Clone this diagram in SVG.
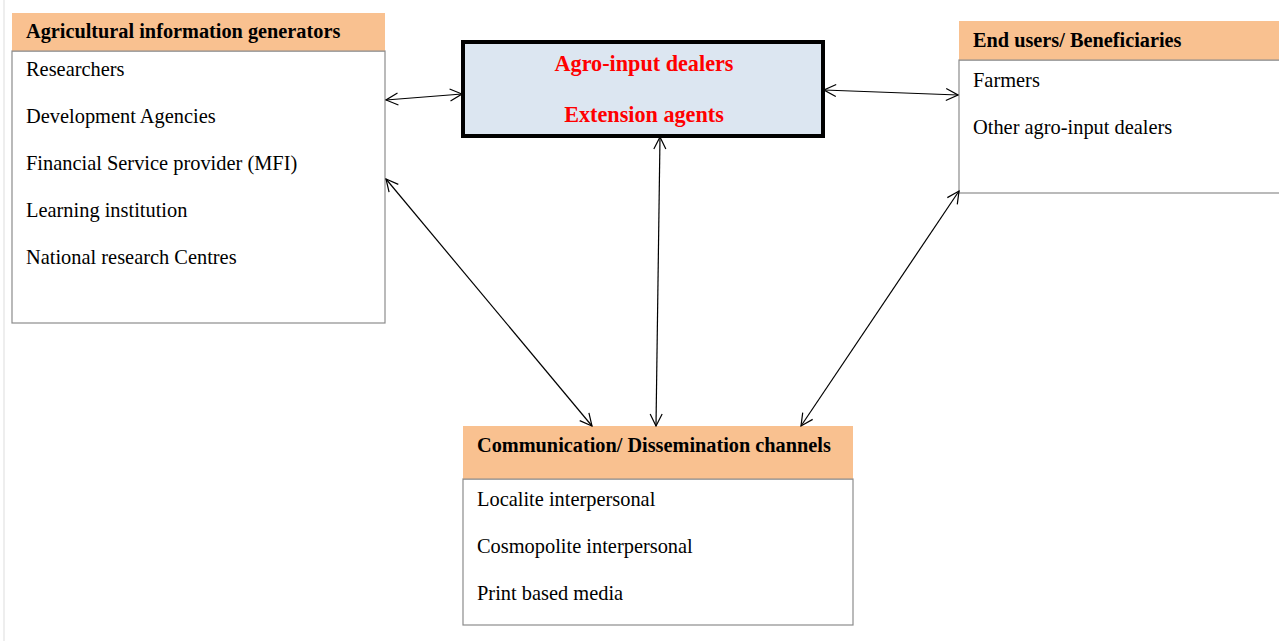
<svg xmlns="http://www.w3.org/2000/svg" width="1279" height="641" viewBox="0 0 1279 641">
<defs>
<style>
.hdr{fill:#f9c190;stroke:none}
.body{fill:#ffffff;stroke:#8c8c8c;stroke-width:1.2}
.ht{font-family:"Liberation Serif","Times New Roman",serif;font-weight:bold;font-size:20.3px;fill:#000}
.bt{font-family:"Liberation Serif","Times New Roman",serif;font-size:20.4px;fill:#000}
.rt{font-family:"Liberation Serif","Times New Roman",serif;font-weight:bold;font-size:22.2px;fill:#ff0000}
.conn{stroke:#000;stroke-width:1.2;fill:none;marker-start:url(#arr);marker-end:url(#arr)}
</style>
<marker id="arr" viewBox="0 0 14 14" refX="13" refY="7" markerWidth="14" markerHeight="14" markerUnits="userSpaceOnUse" orient="auto-start-reverse">
<path d="M1,1 L13,7 L1,13" fill="none" stroke="#000" stroke-width="1.2"/>
</marker>
</defs>
<rect width="1279" height="641" fill="#fff"/>
<line x1="4" y1="0" x2="4" y2="641" stroke="#eeeeee" stroke-width="2"/>
<g id="generators">
<rect class="body" x="12" y="51" width="373" height="272"/>
<rect class="hdr" x="12" y="13" width="373" height="38"/>
<line x1="12" y1="51" x2="385" y2="51" stroke="#8c8c8c" stroke-width="1.2"/>
<text class="ht" x="26" y="38">Agricultural information generators</text>
<text class="bt" x="26" y="76">Researchers</text>
<text class="bt" x="26" y="123">Development Agencies</text>
<text class="bt" x="26" y="170">Financial Service provider (MFI)</text>
<text class="bt" x="26" y="217">Learning institution</text>
<text class="bt" x="26" y="264">National research Centres</text>
</g>
<g id="dealers">
<rect x="463" y="42" width="360" height="94" fill="#dce6f1" stroke="#000" stroke-width="4"/>
<text class="rt" x="644" y="71" text-anchor="middle">Agro-input dealers</text>
<text class="rt" x="644" y="122" text-anchor="middle">Extension agents</text>
</g>
<g id="endusers">
<rect class="body" x="959" y="60" width="330" height="133"/>
<rect class="hdr" x="959" y="21" width="330" height="39"/>
<line x1="959" y1="60" x2="1279" y2="60" stroke="#8c8c8c" stroke-width="1.2"/>
<text class="ht" x="973" y="47">End users/ Beneficiaries</text>
<text class="bt" x="973" y="87">Farmers</text>
<text class="bt" x="973" y="134">Other agro-input dealers</text>
</g>
<g id="channels">
<rect class="body" x="463" y="479" width="390" height="146"/>
<rect class="hdr" x="463" y="426" width="390" height="53"/>
<line x1="463" y1="479" x2="853" y2="479" stroke="#8c8c8c" stroke-width="1.2"/>
<text class="ht" x="477" y="452">Communication/ Dissemination channels</text>
<text class="bt" x="477" y="506">Localite interpersonal</text>
<text class="bt" x="477" y="553">Cosmopolite interpersonal</text>
<text class="bt" x="477" y="600">Print based media</text>
</g>
<g id="connectors">
<line class="conn" x1="386" y1="100" x2="462" y2="94"/>
<line class="conn" x1="824" y1="90" x2="958" y2="95"/>
<line class="conn" x1="386" y1="179" x2="592" y2="426"/>
<line class="conn" x1="660" y1="137" x2="656" y2="426"/>
<line class="conn" x1="959" y1="191" x2="801" y2="426"/>
</g>
</svg>
